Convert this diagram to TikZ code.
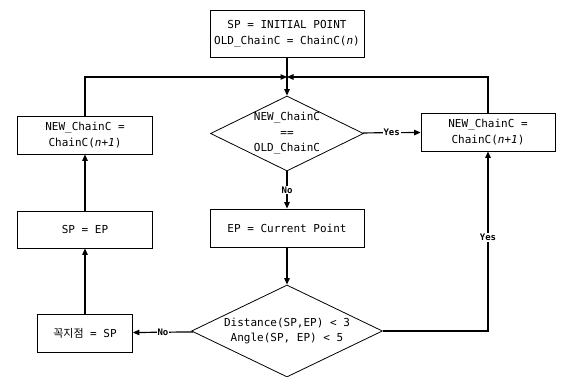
\documentclass[tikz,border=0pt]{standalone}
\usepackage{fontspec}
\usetikzlibrary{shapes.geometric,arrows.meta}
\newfontfamily\chartfont{DejaVu Sans Mono}
\newfontfamily\krfont{Noto Sans CJK KR}

\begin{document}
\begin{tikzpicture}[x=1pt, y=-1pt,
  box/.style={draw, rectangle, line width=0.8pt, inner sep=0pt, align=center,
    font=\chartfont\fontsize{11}{15.5}\selectfont},
  decision/.style={draw, diamond, line width=0.8pt, inner sep=0pt},
  dtext/.style={align=center, font=\chartfont\fontsize{11}{15.5}\selectfont},
  flow/.style={line width=1.2pt, -{Triangle[length=6.5pt,width=5.5pt]}},
  lbl/.style={fill=white, inner sep=1pt, font=\chartfont\bfseries\fontsize{9}{10}\selectfont}]

\useasboundingbox (0,0) rectangle (563,377);

\node[box, minimum width=154, minimum height=47] (init) at (287,33.5)
  {SP = INITIAL POINT\\OLD\_ChainC = ChainC(\textit{n})};
\coordinate (J) at (287,77);

\node[decision, minimum width=153, minimum height=75] (same) at (287,133.5) {};
\node[dtext] at (same) {NEW\_ChainC\\==\\OLD\_ChainC};

\node[box, minimum width=134, minimum height=38] (newR) at (488,132)
  {NEW\_ChainC =\\ChainC(\textit{n+1})};
\node[box, minimum width=135, minimum height=38] (newL) at (85,135)
  {NEW\_ChainC =\\ChainC(\textit{n+1})};

\node[box, minimum width=154, minimum height=38] (ep) at (287,228) {EP = Current Point};
\node[box, minimum width=135, minimum height=37] (spep) at (85,229.5) {SP = EP};

\node[decision, minimum width=191, minimum height=92] (near) at (287,331) {};
\node[dtext] at (near) {Distance(SP,EP) < 3\\Angle(SP, EP) < 5};

\node[box, minimum width=95, minimum height=38] (vert) at (85,333)
  {{\krfont 꼭지점} = SP};

\draw[line width=1.2pt] (init) -- (J);
\draw[flow] (J) -- (same);
\draw[flow] (newL) |- (J);
\draw[flow] (newR) |- (J);
\draw[flow] (same) -- node[lbl] {Yes} (newR);
\draw[flow] (same) -- node[lbl] {No} (ep);
\draw[flow] (ep) -- (near);
\draw[flow] (near) -- node[lbl] {No} (vert);
\draw[flow] (near) -| node[lbl, pos=0.76] {Yes} (newR);
\draw[flow] (vert) -- (spep);
\draw[flow] (spep) -- (newL);

\end{tikzpicture}
\end{document}
